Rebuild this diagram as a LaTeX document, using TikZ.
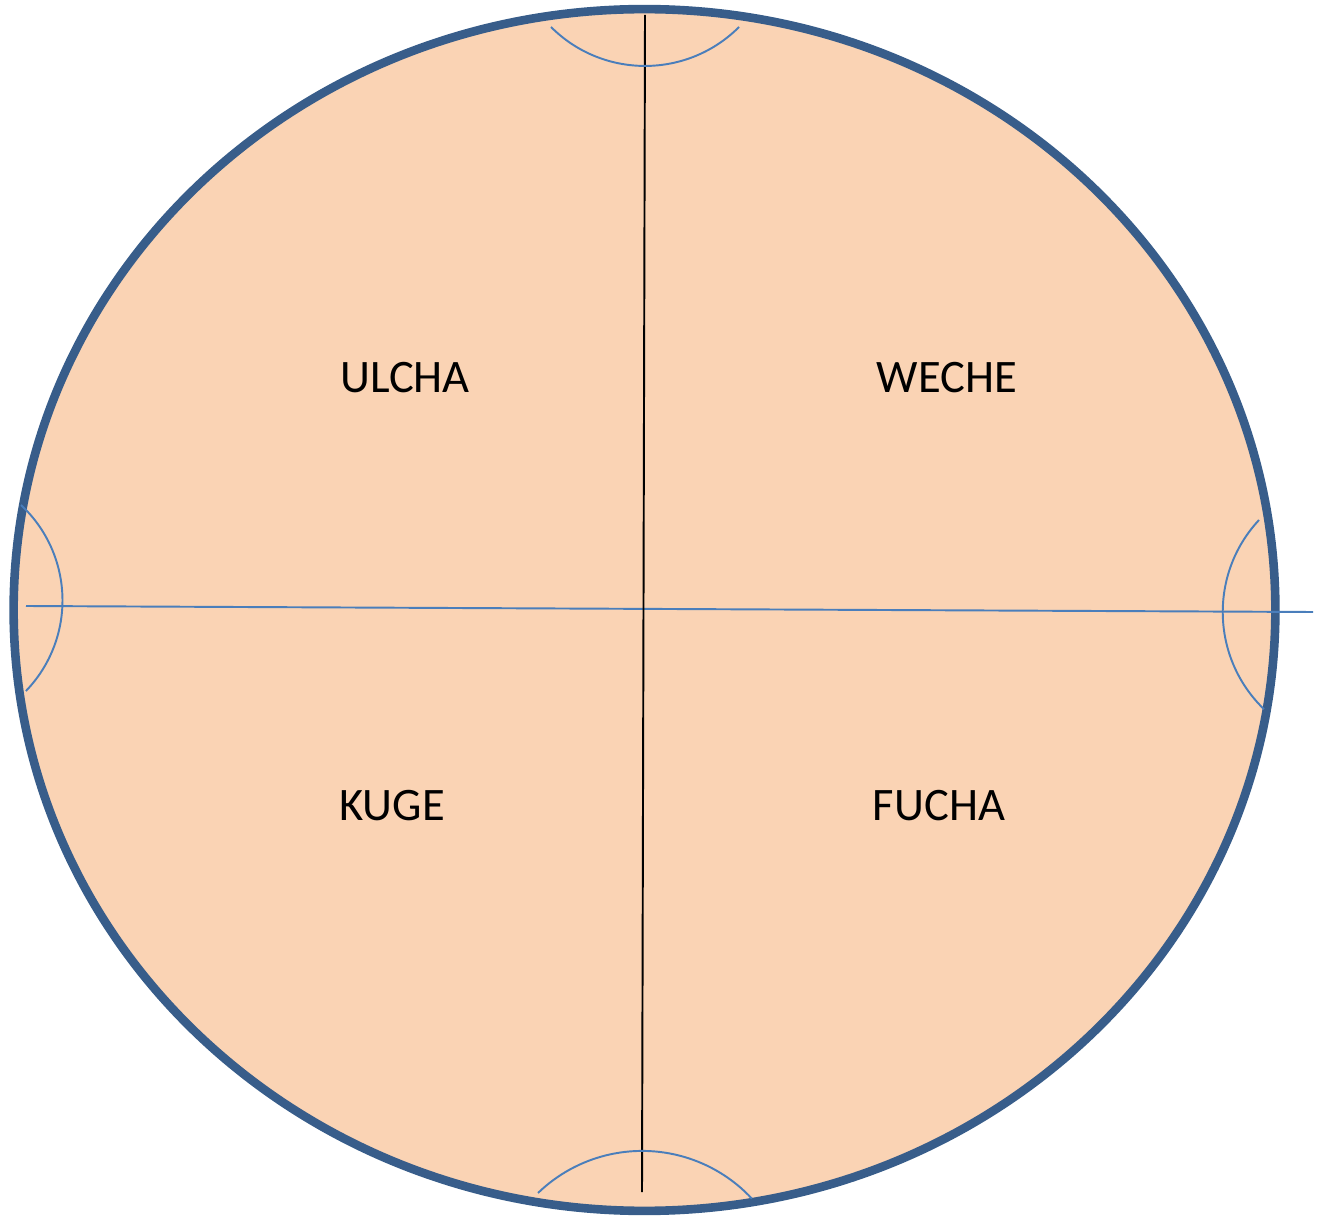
\documentclass[tikz,border=0pt]{standalone}
\usepackage{fontspec}
\setmainfont{Carlito}
\usepackage{tikz}
\usetikzlibrary{
  positioning
}
\definecolor{rim}{HTML}{385D8A}
\definecolor{peach}{HTML}{FAD3B4}
\definecolor{thin}{HTML}{4A7EBB}
\definecolor{ink}{HTML}{000000}
\tikzset{
  field/.style={
    draw=rim,
    fill=peach,
    line width=4.9pt
  },
  axis/.style={
    draw=thin,
    line width=1.1pt
  },
  meridian/.style={
    draw=ink,
    line width=1.1pt
  },
  corner/.style={
    draw=thin,
    line width=1.1pt
  },
  quarter/.style={
    font=\fontsize{26.5}{30}\selectfont,
    text=ink,
    inner sep=0pt
  }
}

\begin{document}
\begin{tikzpicture}[x=0.02cm, y=0.02cm]
  \useasboundingbox (0,0) rectangle (1322,1215);

  % the pitch
  \draw[field] (644.5,605) ellipse[x radius=12.62cm, y radius=12.02cm];

  % dividing lines
  \coordinate (west) at (26,609);
  \coordinate (east) at (1313,603);
  \coordinate (north) at (645,1200);
  \coordinate (south) at (642,23);
  \draw[axis] (west) -- (east);
  \draw[meridian] (north) -- (south);

  % goal arcs
  \draw[corner] (551,1188) arc[start angle=225, end angle=315, radius=2.66cm];
  \draw[corner] (538,22) arc[start angle=134, end angle=43, radius=3cm];
  \draw[corner] (21,710) arc[start angle=47, end angle=-44, radius=2.61cm];
  \draw[corner] (1259,695) arc[start angle=137, end angle=226, radius=2.7cm];

  % quarters
  \node[quarter] (ulcha) at (405,837) {ULCHA};
  \node[quarter] (weche) at (947,837) {WECHE};
  \node[quarter] (kuge) at (392,409) {KUGE};
  \node[quarter] (fucha) at (939,409) {FUCHA};
\end{tikzpicture}
\end{document}
